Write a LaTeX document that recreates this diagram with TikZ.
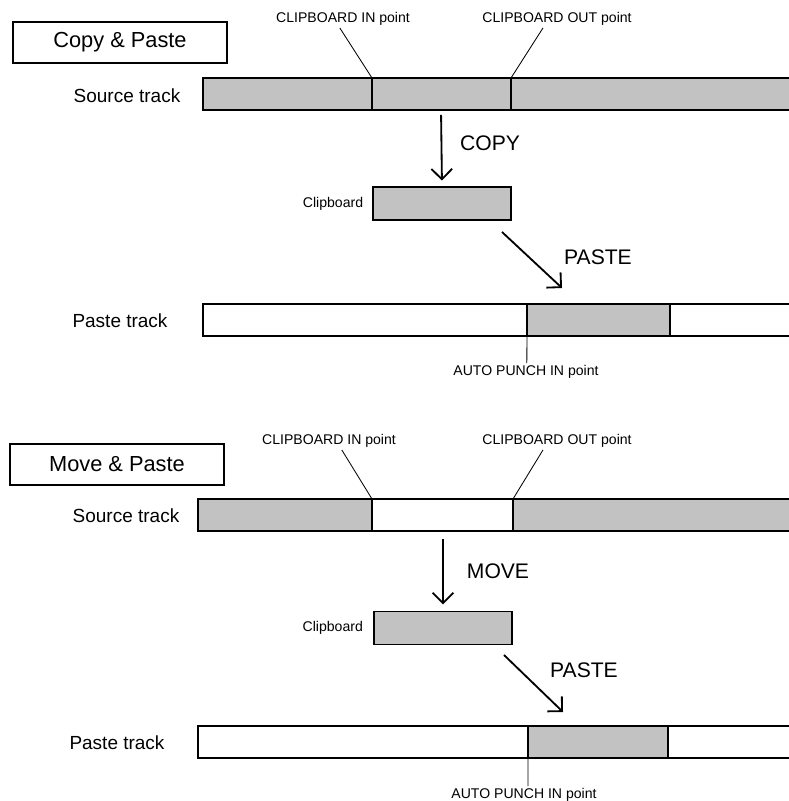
\documentclass[tikz,border=0pt]{standalone}
\usepackage{fontspec}
\setmainfont{Liberation Sans}
\usetikzlibrary{arrows.meta,positioning}
\definecolor{trackgray}{gray}{0.76}
\tikzset{
  titlebox/.style={draw, line width=0.9pt, minimum width=5.35cm, minimum height=1.03cm, font=\fontsize{15.5}{18}\selectfont},
  tracklabel/.style={font=\fontsize{13.5}{16}\selectfont},
  pointlabel/.style={inner sep=1.5pt, font=\fontsize{10}{12}\selectfont},
  oplabel/.style={font=\fontsize{15}{18}\selectfont},
  bar/.style={draw, line width=1pt},
  clipbox/.style={draw, line width=1pt, fill=trackgray, minimum width=3.45cm, minimum height=0.83cm, inner sep=0pt},
  leader/.style={line width=0.6pt},
  oparrow/.style={line width=1.3pt, -{Straight Barb[length=2.6mm,width=5.2mm]}}
}
\begin{document}
\begin{tikzpicture}[x=0.025cm, y=-0.025cm]
\useasboundingbox (0,0) rectangle (788,801);

%Copy & Paste
\node[titlebox] (copytitle) at (120,42.5) {Copy \& Paste};
\node[tracklabel] (copysrclbl) at (127,96) {Source track};
\fill[trackgray] (203,78) rectangle (792,110);
\draw[bar] (792,78) -- (203,78) -- (203,110) -- (792,110);
\coordinate (copyin) at (372,78);
\coordinate (copyout) at (511,78);
\draw[bar] (copyin) -- (372,110);
\draw[bar] (copyout) -- (511,110);
\node[pointlabel] (copyinlbl) at (343,19) {CLIPBOARD IN point};
\node[pointlabel] (copyoutlbl) at (557,19) {CLIPBOARD OUT point};
\draw[leader] ([xshift=-0.08cm]copyinlbl.south) -- (copyin);
\draw[leader] ([xshift=-0.35cm]copyoutlbl.south) -- (copyout);

\coordinate (copysrcbot) at (441,110);
\node[clipbox] (copyclip) at (442,203.5) {};
\node[pointlabel, left=0.17cm of copyclip] (copycliplbl) {Clipboard};
\draw[oparrow, shorten <=3.5pt, shorten >=4pt] (copysrcbot) -- (copyclip.north);
\node[oplabel] (copylbl) at (490,143) {COPY};

\coordinate (copypastefrom) at (502,232);
\coordinate (copypasteto) at (562,288);
\draw[oparrow] (copypastefrom) -- (copypasteto);
\node[oplabel] (copypastelbl) at (598,257) {PASTE};

\node[tracklabel] (copydstlbl) at (120,321) {Paste track};
\draw[bar] (792,304) -- (203,304) -- (203,336) -- (792,336);
\draw[bar, fill=trackgray] (527,304) rectangle (670,336);
\coordinate (copypunch) at (527,336);
\node[pointlabel] (copypunchlbl) at (526,372) {AUTO PUNCH IN point};
\draw[leader] (copypunch) -- ([xshift=0.02cm]copypunchlbl.north);

%Move & Paste
\node[titlebox] (movetitle) at (117,464.5) {Move \& Paste};
\node[tracklabel] (movesrclbl) at (126,516) {Source track};
\fill[trackgray] (198,499) rectangle (372,531);
\fill[trackgray] (513,499) rectangle (792,531);
\draw[bar] (792,499) -- (198,499) -- (198,531) -- (792,531);
\coordinate (movein) at (372,499);
\coordinate (moveout) at (513,499);
\draw[bar] (movein) -- (372,531);
\draw[bar] (moveout) -- (513,531);
\node[pointlabel] (moveinlbl) at (329,441) {CLIPBOARD IN point};
\node[pointlabel] (moveoutlbl) at (557,441) {CLIPBOARD OUT point};
\draw[leader] ([xshift=0.32cm]moveinlbl.south) -- (movein);
\draw[leader] ([xshift=-0.35cm]moveoutlbl.south) -- (moveout);

\coordinate (movesrcbot) at (443,531);
\node[clipbox] (moveclip) at (443,628) {};
\node[pointlabel, left=0.2cm of moveclip] (movecliplbl) {Clipboard};
\draw[oparrow, shorten <=6pt, shorten >=4.5pt] (movesrcbot) -- (moveclip.north);
\node[oplabel] (movelbl) at (498,571) {MOVE};

\coordinate (movepastefrom) at (504,655);
\coordinate (movepasteto) at (563,712);
\draw[oparrow] (movepastefrom) -- (movepasteto);
\node[oplabel] (movepastelbl) at (584,670) {PASTE};

\node[tracklabel] (movedstlbl) at (117,743) {Paste track};
\draw[bar] (792,726) -- (198,726) -- (198,758) -- (792,758);
\draw[bar, fill=trackgray] (528,726) rectangle (668,758);
\coordinate (movepunch) at (528,758);
\node[pointlabel] (movepunchlbl) at (524,795) {AUTO PUNCH IN point};
\draw[leader] (movepunch) -- ([xshift=0.1cm]movepunchlbl.north);

\end{tikzpicture}
\end{document}
